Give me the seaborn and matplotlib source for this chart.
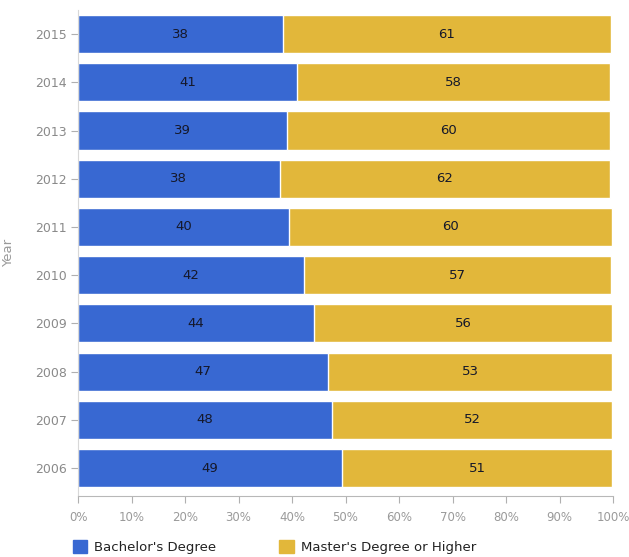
import matplotlib
matplotlib.use("Agg")
import matplotlib.pyplot as plt
import seaborn as sns
import pandas as pd
import numpy as np
from matplotlib.patches import Patch

years = ["2015", "2014", "2013", "2012", "2011", "2010", "2009", "2008", "2007", "2006"]
bachelor = [38.3, 41.0, 39.1, 37.7, 39.5, 42.2, 44.1, 46.7, 47.5, 49.3]
master = [61.3, 58.5, 60.4, 61.8, 60.4, 57.4, 55.8, 53.2, 52.4, 50.6]
bachelor_labels = [38, 41, 39, 38, 40, 42, 44, 47, 48, 49]
master_labels = [61, 58, 60, 62, 60, 57, 56, 53, 52, 51]
xticks = [0, 10, 20, 30, 40, 50, 60, 70, 80, 90, 100]

BLUE = "#3868D2"
GOLD = "#E2B73A"

df = pd.DataFrame({"Year": years, "Bachelor": bachelor, "Master": master})
df["Total"] = df["Bachelor"] + df["Master"]

sns.set_style("white")
plt.rcParams["font.family"] = ["DejaVu Sans"]

fig = plt.figure(figsize=(6.29, 5.57), dpi=100)
ax = fig.add_axes([78 / 629, 1 - 496 / 557, (613 - 78) / 629, (496 - 10) / 557])

sns.barplot(data=df, y="Year", x="Total", color=GOLD, orient="h", ax=ax,
            width=0.79, edgecolor="white", linewidth=1, saturation=1)
sns.barplot(data=df, y="Year", x="Bachelor", color=BLUE, orient="h", ax=ax,
            width=0.79, edgecolor="white", linewidth=1, saturation=1)

for i, (b, m, bl, ml) in enumerate(zip(bachelor, master, bachelor_labels, master_labels)):
    ax.text(b / 2, i, str(bl), ha="center", va="center", fontsize=9.5, color="#15182a")
    ax.text(b + m / 2, i, str(ml), ha="center", va="center", fontsize=9.5, color="#15182a")

ax.set_xlim(0, 100)
ax.set_ylim(9.58, -0.5)
ax.set_xticks(xticks)
ax.set_xticklabels([f"{t}%" for t in xticks], fontsize=8.5, color="#9a9a9a")
ax.tick_params(axis="y", labelsize=9, labelcolor="#8a8a8a", length=5, color="#b0b0b0", left=True, pad=3)
ax.tick_params(axis="x", length=5, color="#b0b0b0", bottom=True, pad=6)
ax.set_xlabel("")
ax.set_ylabel("Year", fontsize=9.5, color="#9a9a9a")
ax.yaxis.set_label_coords(-0.118, 0.5)

for s in ["top", "right"]:
    ax.spines[s].set_visible(False)
ax.spines["left"].set_color("#d8d8d8")
ax.spines["bottom"].set_color("#b8b8b8")
ax.spines["left"].set_linewidth(0.8)
ax.spines["bottom"].set_linewidth(0.8)

handles = [Patch(facecolor=BLUE, edgecolor=BLUE), Patch(facecolor=GOLD, edgecolor=GOLD)]
fig.legend(handles, ["Bachelor's Degree", "Master's Degree or Higher"],
           loc="center left", bbox_to_anchor=(61 / 629, 1 - 547 / 557), ncol=2,
           frameon=False, fontsize=9.5, handlelength=1.1, handleheight=1.1,
           handletextpad=0.5, columnspacing=4.8, labelcolor="#222222")

fig.savefig("out.png", dpi=100)
